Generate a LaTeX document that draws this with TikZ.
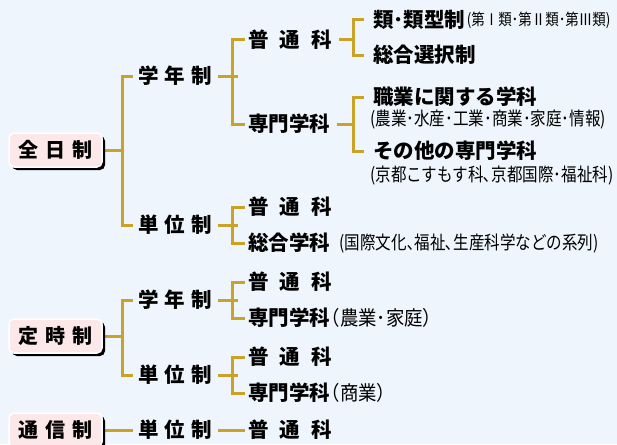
\documentclass[tikz,border=0pt]{standalone}
\usepackage{fontspec}
\setmainfont{Noto Sans CJK JP}
\newfontfamily\jpsmall{Noto Sans CJK JP}[FakeStretch=0.84]
\newfontfamily\jpmid{Noto Sans CJK JP}[FakeStretch=0.92]
\usetikzlibrary{shadows}
\definecolor{bgblue}{HTML}{EEF5FC}
\definecolor{rootpink}{HTML}{FDE8E9}
\definecolor{gold}{HTML}{C9A227}
\pgfdeclarelayer{bg}
\pgfsetlayers{bg,main}
\begin{document}
\begin{tikzpicture}[x=1pt,y=-1pt,
  lbl/.style={inner sep=0pt, anchor=west, text height=17.6pt, text depth=2.4pt,
    font=\fontsize{20.5}{20.5}\selectfont\bfseries},
  rootbox/.style={rounded corners=5pt, fill=rootpink, draw=white, line width=1.5pt,
    minimum width=93pt, minimum height=34pt, inner sep=0pt,
    text height=17.6pt, text depth=2.4pt,
    font=\fontsize{20}{20}\selectfont\bfseries,
    drop shadow={shadow xshift=3pt, shadow yshift=-3pt, fill=black, opacity=1}},
  smallA/.style={inner sep=0pt, anchor=west, font=\fontsize{18.5}{18.5}\selectfont\jpsmall},
  smallB/.style={inner sep=0pt, anchor=west, font=\fontsize{16}{16}\selectfont\jpsmall},
  smallC/.style={inner sep=0pt, anchor=west, font=\fontsize{20}{20}\selectfont\jpmid},
  conn/.style={draw=gold, line width=3pt}]
\begin{pgfonlayer}{bg}
\fill[bgblue] (0,0) rectangle (617,444);
\end{pgfonlayer}
\useasboundingbox (0,0) rectangle (617,444);

% roots
\node[rootbox] (zen) at (55.5,150) {全\hspace{7pt}日\hspace{7pt}制};
\node[rootbox] (tei) at (55.5,336) {定\hspace{7pt}時\hspace{7pt}制};
\node[rootbox] (tsu) at (55.5,430) {通\hspace{7pt}信\hspace{7pt}制};

% level 1
\node[lbl] (zg) at (138,76) {学\hspace{6pt}年\hspace{6pt}制};
\node[lbl] (zt) at (138,225) {単\hspace{6pt}位\hspace{6pt}制};
\node[lbl] (tg) at (138,300) {学\hspace{6pt}年\hspace{6pt}制};
\node[lbl] (tt) at (138,375) {単\hspace{6pt}位\hspace{6pt}制};
\node[lbl] (st) at (138,430) {単\hspace{6pt}位\hspace{6pt}制};

% level 2
\node[lbl] (zgf) at (248,40) {普\hspace{11pt}通\hspace{11pt}科};
\node[lbl] (zgs) at (248,124) {専門学科};
\node[lbl] (ztf) at (248,207) {普\hspace{11pt}通\hspace{11pt}科};
\node[lbl] (zts) at (248,243) {総合学科};
\node[smallA] (ztsp) at ([xshift=9pt]zts.east) {(国際文化､福祉､生産科学などの系列)};
\node[lbl] (tgf) at (248,282) {普\hspace{11pt}通\hspace{11pt}科};
\node[lbl] (tgs) at (248,318) {専門学科};
\node[smallC] (tgsp) at ([xshift=-9pt]tgs.east) {（農業･家庭）};
\node[lbl] (ttf) at (248,357) {普\hspace{11pt}通\hspace{11pt}科};
\node[lbl] (tts) at (248,393) {専門学科};
\node[smallC] (ttsp) at ([xshift=-9pt]tts.east) {（商業）};
\node[lbl] (stf) at (248,430) {普\hspace{11pt}通\hspace{11pt}科};

% level 3
\node[lbl] (r1) at (373,20) {類･類型制};
\node[smallB] (r1p) at ([xshift=1pt]r1.east) {(第Ⅰ類･第Ⅱ類･第Ⅲ類)};
\node[lbl] (r2) at (373,55) {総合選択制};
\node[lbl] (s1) at (373,97) {職業に関する学科};
\node[smallA] (s1p) at (370,120) {(農業･水産･工業･商業･家庭･情報)};
\node[lbl] (s2) at (373,151) {その他の専門学科};
\node[smallA] (s2p) at (370,176) {(京都こすもす科､京都国際･福祉科)};

% spines
\coordinate (a1) at (122,0);
\coordinate (a2) at (232,0);
\coordinate (a3) at (353,0);

\begin{pgfonlayer}{bg}
% 全日制
\draw[conn] (zen.east) -- (zen.east -| a1);
\draw[conn] ([xshift=-5pt]zg.west) -| (a1 |- zt.west) -- ([xshift=-5pt]zt.west);
\draw[conn] ([xshift=6pt]zg.east) -- ([xshift=6pt]zg.east -| a2);
\draw[conn] ([xshift=-3pt]zgf.west) -| (a2 |- zgs.west) -- ([xshift=-3pt]zgs.west);
\draw[conn] ([xshift=7pt]zgf.east) -- (zgf.east -| a3);
\draw[conn] ([xshift=-9pt]r1.west) -| (a3 |- r2.west) -- ([xshift=-9pt]r2.west);
\draw[conn] ([xshift=7pt]zgs.east) -- (zgs.east -| a3);
\draw[conn] ([xshift=-9pt]s1.west) -| (a3 |- s2.west) -- ([xshift=-9pt]s2.west);
\draw[conn] ([xshift=6pt]zt.east) -- ([xshift=6pt]zt.east -| a2);
\draw[conn] ([xshift=-3pt]ztf.west) -| (a2 |- zts.west) -- ([xshift=-3pt]zts.west);
% 定時制
\draw[conn] (tei.east) -- (tei.east -| a1);
\draw[conn] ([xshift=-5pt]tg.west) -| (a1 |- tt.west) -- ([xshift=-5pt]tt.west);
\draw[conn] ([xshift=6pt]tg.east) -- ([xshift=6pt]tg.east -| a2);
\draw[conn] ([xshift=-3pt]tgf.west) -| (a2 |- tgs.west) -- ([xshift=-3pt]tgs.west);
\draw[conn] ([xshift=6pt]tt.east) -- ([xshift=6pt]tt.east -| a2);
\draw[conn] ([xshift=-3pt]ttf.west) -| (a2 |- tts.west) -- ([xshift=-3pt]tts.west);
% 通信制
\draw[conn] (tsu.east) -- ([xshift=-5pt]st.west);
\draw[conn] ([xshift=6pt]st.east) -- ([xshift=-3pt]stf.west);
\end{pgfonlayer}
\end{tikzpicture}
\end{document}
